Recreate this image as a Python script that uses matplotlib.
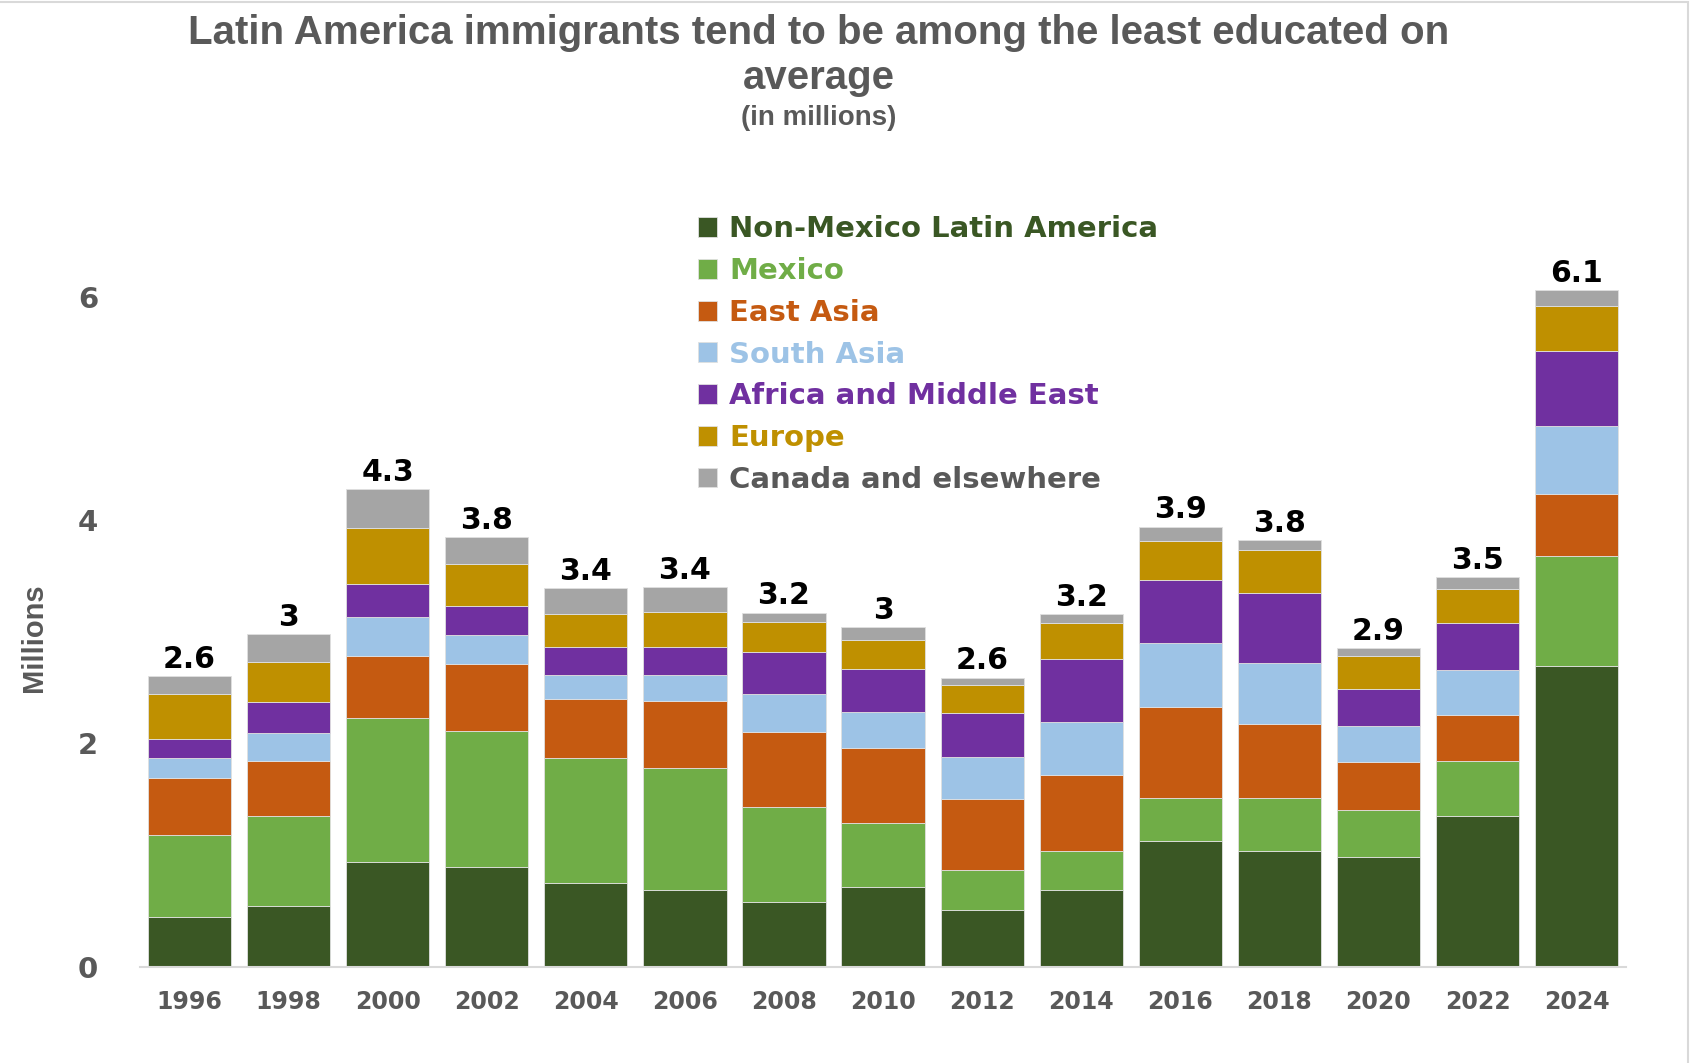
import numpy as np
import matplotlib
matplotlib.use("Agg")
import matplotlib.pyplot as plt
from matplotlib.patches import Rectangle

years = ["1996", "1998", "2000", "2002", "2004", "2006", "2008", "2010",
         "2012", "2014", "2016", "2018", "2020", "2022", "2024"]

# segment sizes per region, in millions
non_mexico_latam = [0.45, 0.54, 0.94, 0.89, 0.75, 0.69, 0.58, 0.71, 0.51, 0.69, 1.13, 1.04, 0.98, 1.35, 2.69]
mexico = [0.73, 0.81, 1.29, 1.22, 1.12, 1.09, 0.85, 0.58, 0.36, 0.35, 0.38, 0.47, 0.42, 0.49, 0.99]
east_asia = [0.51, 0.49, 0.55, 0.60, 0.53, 0.60, 0.67, 0.67, 0.63, 0.68, 0.82, 0.66, 0.43, 0.41, 0.55]
south_asia = [0.18, 0.25, 0.35, 0.26, 0.21, 0.23, 0.34, 0.32, 0.38, 0.47, 0.57, 0.55, 0.33, 0.41, 0.61]
africa_me = [0.17, 0.28, 0.30, 0.26, 0.25, 0.25, 0.38, 0.39, 0.39, 0.57, 0.56, 0.63, 0.33, 0.42, 0.67]
europe = [0.40, 0.36, 0.50, 0.38, 0.30, 0.32, 0.27, 0.26, 0.25, 0.32, 0.35, 0.38, 0.29, 0.30, 0.41]
canada_other = [0.16, 0.25, 0.35, 0.24, 0.23, 0.22, 0.08, 0.11, 0.07, 0.08, 0.13, 0.09, 0.07, 0.11, 0.14]

total_labels = ["2.6", "3", "4.3", "3.8", "3.4", "3.4", "3.2", "3", "2.6", "3.2", "3.9", "3.8", "2.9", "3.5", "6.1"]

series = [
    ("Non-Mexico Latin America", non_mexico_latam, "#3A5724", "#3A5724"),
    ("Mexico", mexico, "#70AD47", "#70AD47"),
    ("East Asia", east_asia, "#C55A11", "#C55A11"),
    ("South Asia", south_asia, "#9DC3E6", "#9DC3E6"),
    ("Africa and Middle East", africa_me, "#7030A0", "#7030A0"),
    ("Europe", europe, "#BF9000", "#BF9000"),
    ("Canada and elsewhere", canada_other, "#A5A5A5", "#595959"),
]

gray_text = "#595959"
main_font = "DejaVu Sans"
title_font = "Liberation Sans"

fig = plt.figure(figsize=(16.91, 10.63), dpi=100)
ax = fig.add_axes([0.0828, 0.0905, 0.8788, 0.6935])

x = np.arange(len(years))
bottom = np.zeros(len(years))
for name, vals, color, _ in series:
    vals = np.array(vals)
    ax.bar(x, vals, width=0.84, bottom=bottom, color=color, label=name,
           edgecolor="#E0E0E0", linewidth=0.6)
    bottom += vals

# total on top of each bar
for xi, top, lab in zip(x, bottom, total_labels):
    ax.text(xi, top + 0.02, lab, ha="center", va="bottom", fontsize=21.5,
            fontweight="bold", color="black", family=main_font)

ax.set_xlim(-0.5, len(years) - 0.5)
ax.set_ylim(0, 6.6)
ax.set_xticks(x)
ax.set_xticklabels(years)
ax.set_yticks([0, 2, 4, 6])
ax.tick_params(axis="x", length=0, pad=17, labelsize=17, labelcolor=gray_text)
ax.tick_params(axis="y", length=0, pad=30, labelsize=21, labelcolor=gray_text)
for lab in ax.get_xticklabels() + ax.get_yticklabels():
    lab.set_fontweight("bold")
    lab.set_family(main_font)

for s in ["top", "right", "left"]:
    ax.spines[s].set_visible(False)
ax.spines["bottom"].set_color("#D9D9D9")
ax.spines["bottom"].set_linewidth(1.5)

fig.text(0.0204, 0.40, "Millions", rotation=90, ha="center", va="center",
         fontsize=21, fontweight="bold", color=gray_text, family=title_font)

# title
fig.text(0.484, 0.969, "Latin America immigrants tend to be among the least educated on",
         ha="center", va="center", fontsize=29, fontweight="bold", color=gray_text, family=title_font)
fig.text(0.484, 0.927, "average", ha="center", va="center", fontsize=29,
         fontweight="bold", color=gray_text, family=title_font)
fig.text(0.484, 0.889, "(in millions)", ha="center", va="center", fontsize=20,
         fontweight="bold", color=gray_text, family=title_font)

leg = fig.legend(loc="upper left", bbox_to_anchor=(0.404, 0.811), frameon=False,
                 prop={"family": main_font, "weight": "bold", "size": 21},
                 handlelength=0.67, handleheight=0.67, handletextpad=0.41,
                 labelspacing=0.47, borderpad=0)
for txt, (_, _, _, tcol) in zip(leg.get_texts(), series):
    txt.set_color(tcol)

# light chart border
fig.patches.append(Rectangle((-0.01, -0.01), 1688 / 1691 + 0.01, 1.0 - 2 / 1063 + 0.01,
                             transform=fig.transFigure, fill=False,
                             edgecolor="#D9D9D9", linewidth=1.5))

fig.savefig("out.png", dpi=100, facecolor="white")
